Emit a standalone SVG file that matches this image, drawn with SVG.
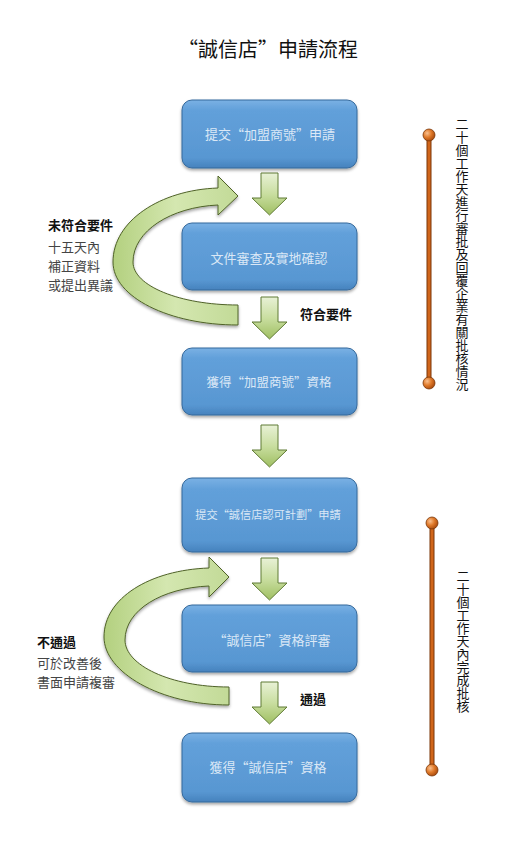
<svg xmlns="http://www.w3.org/2000/svg" width="522" height="849" viewBox="0 0 522 849">
<defs>
  <linearGradient id="boxGrad" x1="0" y1="0" x2="0" y2="1">
    <stop offset="0" stop-color="#7ab1e4"/>
    <stop offset="0.15" stop-color="#62a0da"/>
    <stop offset="0.85" stop-color="#5897d2"/>
    <stop offset="1" stop-color="#4682bd"/>
  </linearGradient>
  <linearGradient id="greenGrad" x1="0" y1="0" x2="0" y2="1">
    <stop offset="0" stop-color="#e8f1d6"/>
    <stop offset="0.5" stop-color="#c9dea0"/>
    <stop offset="1" stop-color="#9fbf62"/>
  </linearGradient>
  <linearGradient id="curveGrad" x1="0" y1="0" x2="1" y2="0">
    <stop offset="0" stop-color="#b3d07f"/>
    <stop offset="0.5" stop-color="#d4e7b0"/>
    <stop offset="1" stop-color="#c2da97"/>
  </linearGradient>
  <radialGradient id="ballGrad" cx="0.35" cy="0.35" r="0.7">
    <stop offset="0" stop-color="#f9c08f"/>
    <stop offset="0.5" stop-color="#e07a2a"/>
    <stop offset="1" stop-color="#a8490c"/>
  </radialGradient>
  <filter id="shadow" x="-10%" y="-10%" width="120%" height="130%">
    <feDropShadow dx="0" dy="2" stdDeviation="1.5" flood-color="#000" flood-opacity="0.35"/>
  </filter>
  <path id="downArrow" d="M9,0 H26 V25 H35 L17.5,42 L0,25 H9 Z"/>
</defs>
<style>
  .box { fill: url(#boxGrad); stroke: #35699c; stroke-width: 1; filter: url(#shadow); }
  .boxText { font-family: "Noto Sans CJK TC", "Liberation Sans", sans-serif; font-size: 13px; fill: #dbe8f6; text-anchor: middle; }
  .garrow { fill: url(#greenGrad); stroke: #5f7a34; stroke-width: 1; }
  .carrow { fill: url(#curveGrad); stroke: #4f6228; stroke-width: 1; filter: url(#shadow); }
  .label { font-family: "Noto Sans CJK TC", "Liberation Sans", sans-serif; font-size: 13px; fill: #444; }
  .labelB { font-family: "Noto Sans CJK TC", "Liberation Sans", sans-serif; font-size: 13px; font-weight: bold; fill: #111; }
  .vtext { font-family: "Noto Sans CJK TC", "Liberation Sans", sans-serif; font-size: 13px; fill: #111; writing-mode: vertical-rl; }
  .bar { stroke: #7a3608; stroke-width: 5; }
  .barIn { stroke: #d0651a; stroke-width: 3; }
  .ball { fill: url(#ballGrad); stroke: #7a3608; stroke-width: 0.8; }
</style>
<rect width="522" height="849" fill="#ffffff"/>

<text x="268" y="57" font-family="'Noto Sans CJK TC', 'Liberation Sans', sans-serif" font-size="20" fill="#111" text-anchor="middle">“誠信店”申請流程</text>

<g id="connectors">
  <use href="#downArrow" class="garrow" x="252" y="173"/>
  <use href="#downArrow" class="garrow" x="252" y="297"/>
  <use href="#downArrow" class="garrow" x="252" y="425"/>
  <use href="#downArrow" class="garrow" x="252" y="558"/>
  <use href="#downArrow" class="garrow" x="252" y="682"/>
  <path class="carrow" d="M238,325 C169,325 113,297 113,262 C113,221 160,190 218,188 L218,176 L238,196 L218,215 L218,205 C171,207 133,231 133,262 C133,286 180,305 238,305 Z"/>
  <path class="carrow" d="M229,705 C160,705 104,672 104,637 C104,598 150,570 209,568 L209,557 L229,577 L209,597 L209,586 C162,588 125,610 125,640 C125,665 170,687 229,687 Z"/>
</g>

<g id="node1">
  <rect class="box" x="182" y="100" width="175" height="68" rx="10"/>
  <text class="boxText" x="270" y="139">提交“加盟商號”申請</text>
</g>
<g id="node2">
  <rect class="box" x="182" y="223" width="175" height="67" rx="10"/>
  <text class="boxText" x="269" y="263">文件審查及實地確認</text>
</g>
<g id="node3">
  <rect class="box" x="182" y="348" width="175" height="67" rx="10"/>
  <text class="boxText" x="269" y="387" style="font-size:12.5px">獲得“加盟商號”資格</text>
</g>
<g id="node4">
  <rect class="box" x="182" y="478" width="175" height="74" rx="10"/>
  <text class="boxText" x="268" y="519" style="font-size:11.2px">提交“誠信店認可計劃”申請</text>
</g>
<g id="node5">
  <rect class="box" x="182" y="605" width="175" height="67" rx="10"/>
  <text class="boxText" x="272" y="645">“誠信店”資格評審</text>
</g>
<g id="node6">
  <rect class="box" x="182" y="733" width="175" height="69" rx="10"/>
  <text class="boxText" x="268" y="772">獲得“誠信店”資格</text>
</g>

<g id="labels">
  <text class="labelB" x="48" y="230">未符合要件</text>
  <text class="label" x="48" y="252">十五天內</text>
  <text class="label" x="48" y="271">補正資料</text>
  <text class="label" x="48" y="290">或提出異議</text>
  <text class="labelB" x="300" y="319">符合要件</text>
  <text class="labelB" x="37" y="647">不通過</text>
  <text class="label" x="37" y="668">可於改善後</text>
  <text class="label" x="37" y="687">書面申請複審</text>
  <text class="labelB" x="300" y="704">通過</text>
</g>

<g id="timeline1">
  <line class="bar" x1="429" y1="135" x2="429" y2="383"/>
  <line class="barIn" x1="429" y1="135" x2="429" y2="383"/>
  <circle class="ball" cx="429" cy="135" r="6"/>
  <circle class="ball" cx="429" cy="383" r="6"/>
  <text class="vtext" x="462" y="118">二十個工作天進行審批及回覆企業有關批核情況</text>
</g>
<g id="timeline2">
  <line class="bar" x1="432" y1="523" x2="432" y2="770"/>
  <line class="barIn" x1="432" y1="523" x2="432" y2="770"/>
  <circle class="ball" cx="432" cy="523" r="6"/>
  <circle class="ball" cx="432" cy="770" r="6"/>
  <text class="vtext" x="463" y="570">二十個工作天內完成批核</text>
</g>
</svg>
